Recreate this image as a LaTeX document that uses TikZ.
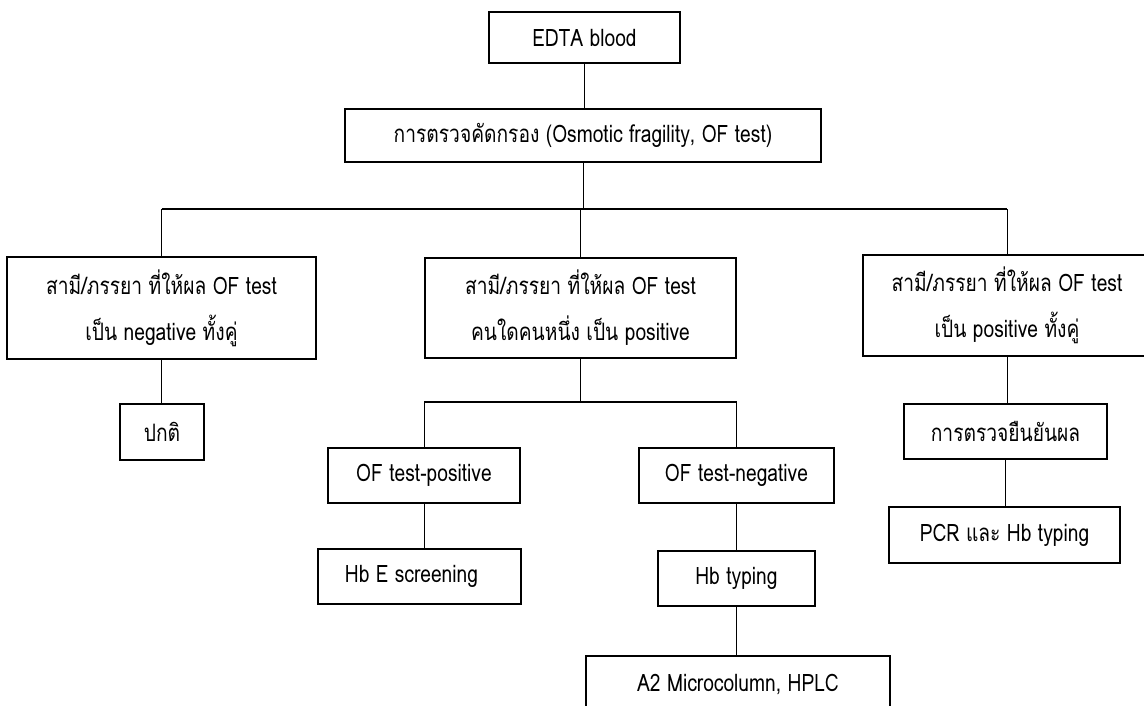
\documentclass[tikz,border=0pt]{standalone}
\usepackage{fontspec}
\setmainfont[Script=Thai,FakeStretch=0.8]{Loma}
\begin{document}
\begin{tikzpicture}[x=1pt, y=-1pt,
  box/.style={draw, line width=1.3pt, inner sep=0pt, align=center, font=\fontsize{24}{46}\selectfont},
  link/.style={line width=0.8pt},
  bus/.style={line width=1.6pt}]
\clip (0,0) rectangle (1144,705);
\fill[white] (0,0) rectangle (1144,705);
\node[box, minimum width=191, minimum height=51] (edta) at (584.5,37.5) {EDTA blood};
\node[box, minimum width=476, minimum height=53] (screen) at (583,135.5) {การตรวจคัดกรอง (Osmotic fragility, OF test)};
\node[box, minimum width=309, minimum height=102] (neg) at (161.5,308) {สามี/ภรรยา ที่ให้ผล OF test\\เป็น negative ทั้งคู่};
\node[box, minimum width=311, minimum height=100] (one) at (580.5,308) {สามี/ภรรยา ที่ให้ผล OF test\\คนใดคนหนึ่ง เป็น positive};
\node[box, minimum width=288, minimum height=101] (both) at (1007,305.5) {สามี/ภรรยา ที่ให้ผล OF test\\เป็น positive ทั้งคู่};
\node[box, minimum width=84, minimum height=56] (normal) at (162,432) {ปกติ};
\node[box, minimum width=192, minimum height=55] (ofpos) at (424,475.5) {OF test-positive};
\node[box, minimum width=195, minimum height=55] (ofneg) at (736.5,475.5) {OF test-negative};
\node[box, minimum width=203, minimum height=55] (hbe) at (419.5,576.5) {Hb E screening\hspace{16pt}};
\node[box, minimum width=157, minimum height=55] (hbt) at (736.5,578.5) {Hb typing};
\node[box, minimum width=304, minimum height=57] (a2) at (738,684.5) {A2 Microcolumn, HPLC};
\node[box, minimum width=203, minimum height=55] (confirm) at (1005.5,431.5) {การตรวจยืนยันผล};
\node[box, minimum width=231, minimum height=56] (pcr) at (1004.5,535) {PCR และ Hb typing};
\coordinate (split) at (screen.south |- 0,209);
\coordinate (split2) at (one.south |- 0,402);
\draw[link] (edta.south) -- (edta.south |- screen.north);
\draw[link] (screen.south) -- (split);
\draw[bus] (neg.north |- split) -- (both.north |- split);
\draw[link] (neg.north |- split) -- (neg.north);
\draw[link] (one.north |- split) -- (one.north);
\draw[link] (both.north |- split) -- (both.north);
\draw[link] (neg.south) -- (neg.south |- normal.north);
\draw[link] (one.south) -- (split2);
\draw[bus] (ofpos.north |- split2) -- (ofneg.north |- split2);
\draw[link] (ofpos.north |- split2) -- (ofpos.north);
\draw[link] (ofneg.north |- split2) -- (ofneg.north);
\draw[link] (ofpos.south) -- (ofpos.south |- hbe.north);
\draw[link] (ofneg.south) -- (ofneg.south |- hbt.north);
\draw[link] (hbt.south) -- (hbt.south |- a2.north);
\draw[link] (both.south) -- (both.south |- confirm.north);
\draw[link] (confirm.south) -- (confirm.south |- pcr.north);
\end{tikzpicture}
\end{document}
